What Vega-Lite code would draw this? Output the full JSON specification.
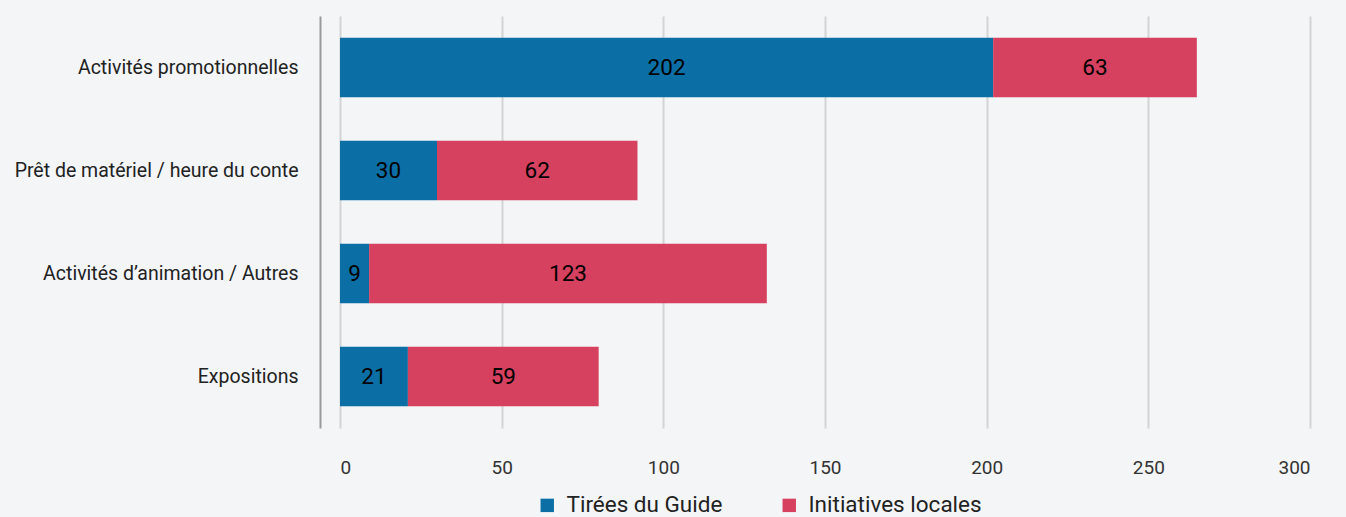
{
  "$schema": "https://vega.github.io/schema/vega-lite/v6.json",
  "width": 970,
  "height": 412,
  "autosize": {"type": "none"},
  "padding": {"left": 340, "top": 16, "right": 36, "bottom": 89},
  "background": "#f3f5f7",
  "config": {"view": {"stroke": null}, "font": "Roboto"},
  "data": {
    "values": [
      {"cat": "Activités promotionnelles", "serie": "Tirées du Guide", "v": 202},
      {"cat": "Activités promotionnelles", "serie": "Initiatives locales", "v": 63},
      {"cat": "Prêt de matériel / heure du conte", "serie": "Tirées du Guide", "v": 30},
      {"cat": "Prêt de matériel / heure du conte", "serie": "Initiatives locales", "v": 62},
      {"cat": "Activités d’animation / Autres", "serie": "Tirées du Guide", "v": 9},
      {"cat": "Activités d’animation / Autres", "serie": "Initiatives locales", "v": 123},
      {"cat": "Expositions", "serie": "Tirées du Guide", "v": 21},
      {"cat": "Expositions", "serie": "Initiatives locales", "v": 59}
    ]
  },
  "layer": [
    {
      "mark": {"type": "bar"},
      "encoding": {
        "y": {
          "field": "cat", "type": "nominal",
          "sort": ["Activités promotionnelles", "Prêt de matériel / heure du conte", "Activités d’animation / Autres", "Expositions"],
          "scale": {"paddingInner": 0.42, "paddingOuter": 0.21},
          "axis": {"title": null, "ticks": false, "offset": 20, "domainColor": "#9a9a9a", "domainWidth": 2, "labelPadding": 22, "labelFontSize": 19.5, "labelColor": "#222222", "labelLimit": 400}
        },
        "x": {
          "field": "v", "type": "quantitative",
          "scale": {"domain": [0, 300]},
          "axis": {"title": null, "values": [0, 50, 100, 150, 200, 250, 300], "domain": false, "ticks": false, "labelPadding": 30, "labelFontSize": 19, "labelColor": "#333333", "grid": true, "gridColor": "#d4d4d4", "gridWidth": 2}
        },
        "color": {
          "field": "serie", "type": "nominal",
          "scale": {"domain": ["Tirées du Guide", "Initiatives locales"], "range": ["#0b6fa6", "#d5415e"]},
          "legend": {"title": null, "orient": "none", "legendX": 196, "legendY": 478, "direction": "horizontal", "symbolType": "square", "symbolSize": 180, "symbolStrokeWidth": 0, "labelFontSize": 22.5, "labelColor": "#222222", "labelLimit": 400, "columnPadding": 55, "labelOffset": 8}
        },
        "order": {"field": "serie", "sort": "descending"}
      }
    },
    {
      "transform": [
        {"stack": "v", "groupby": ["cat"], "sort": [{"field": "serie", "order": "descending"}], "as": ["s0", "s1"]},
        {"fold": ["s0", "s1"], "as": ["k", "p"]},
        {"aggregate": [{"op": "mean", "field": "p", "as": "mid"}, {"op": "max", "field": "v", "as": "val"}], "groupby": ["cat", "serie"]}
      ],
      "mark": {"type": "text", "fontSize": 22.5, "color": "#000000"},
      "encoding": {
        "y": {"field": "cat", "type": "nominal", "sort": ["Activités promotionnelles", "Prêt de matériel / heure du conte", "Activités d’animation / Autres", "Expositions"]},
        "x": {"field": "mid", "type": "quantitative"},
        "text": {"field": "val", "type": "quantitative"}
      }
    }
  ]
}
